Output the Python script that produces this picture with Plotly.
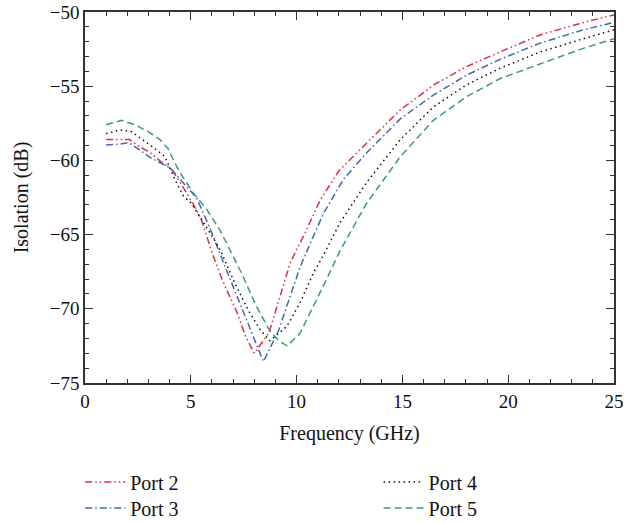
import plotly.graph_objects as go

# Port 2 (red, dash-dot-dot)
p2_x = [1, 1.7, 2.1, 2.5, 3.1, 3.6, 4.1, 4.5, 5.1, 5.5, 6.0, 6.5, 7.2, 7.6, 8.0, 8.7, 9.2, 9.7, 10.0, 10.4, 11.1, 12.0, 13.3, 14.9, 16.5, 18.0, 19.6, 21.5, 23.7, 25]
p2_y = [-58.6, -58.6, -58.6, -59.0, -59.5, -60.1, -60.6, -61.5, -62.9, -64.0, -66.2, -68.1, -70.3, -71.9, -73.0, -71.6, -69.2, -66.9, -66.0, -64.9, -62.7, -60.7, -58.85, -56.6, -54.9, -53.7, -52.7, -51.55, -50.65, -50.2]

# Port 3 (blue, dash-dot)
p3_x = [1, 1.65, 2.05, 2.5, 3.07, 3.6, 4.02, 4.73, 5.28, 5.67, 6.0, 6.38, 7.0, 7.64, 8.11, 8.43, 9.14, 9.69, 10.16, 10.44, 11.26, 12.2, 13.3, 14.9, 16.46, 18.04, 19.6, 21.5, 23.55, 25]
p3_y = [-58.96, -58.9, -58.8, -59.2, -59.8, -60.2, -60.5, -61.65, -62.55, -63.8, -64.9, -66.3, -68.5, -70.75, -72.55, -73.56, -71.5, -69.2, -67.2, -66.26, -63.6, -61.3, -59.5, -57.2, -55.6, -54.25, -53.2, -52.1, -51.2, -50.7]

# Port 4 (black, dotted)
p4_x = [1, 1.65, 2.2, 2.74, 3.3, 3.78, 4.25, 4.65, 5.04, 5.43, 5.83, 6.22, 6.46, 7.09, 7.72, 8.27, 8.74, 9.53, 10.16, 10.79, 11.26, 12.05, 13.3, 14.9, 16.46, 18.04, 19.6, 21.5, 23.55, 25]
p4_y = [-58.2, -57.95, -58.07, -58.6, -59.2, -59.75, -61.3, -62.4, -62.9, -63.8, -64.7, -65.6, -66.26, -68.3, -70.1, -71.4, -72.15, -71.2, -69.6, -67.6, -66.4, -64.2, -61.5, -58.6, -56.4, -54.9, -53.8, -52.7, -51.8, -51.2]

# Port 5 (green, dashed)
p5_x = [1, 1.73, 2.36, 3.0, 3.54, 3.92, 4.33, 4.57, 5.12, 5.75, 6.38, 6.9, 7.4, 8.11, 8.74, 9.2, 9.56, 10.16, 10.79, 11.4, 12.05, 12.52, 13.3, 14.9, 16.46, 18.04, 19.6, 21.5, 23.55, 25]
p5_y = [-57.6, -57.3, -57.6, -58.07, -58.6, -59.2, -60.4, -61.0, -62.2, -63.3, -64.7, -66.2, -67.6, -69.86, -71.5, -72.2, -72.5, -71.65, -69.86, -68.06, -66.1, -64.9, -62.9, -59.75, -57.3, -55.7, -54.5, -53.5, -52.45, -51.8]

x_ticks = [0, 5, 10, 15, 20, 25]
y_ticks = [-75, -70, -65, -60, -55, -50]

FONT = "Liberation Serif"

fig = go.Figure()
fig.add_trace(go.Scatter(x=p2_x, y=p2_y, mode="lines", name="Port 2",
                         line=dict(color="#d8304a", width=1.5, dash="7px,3px,1.5px,3px,1.5px,3px"),
                         legend="legend"))
fig.add_trace(go.Scatter(x=p3_x, y=p3_y, mode="lines", name="Port 3",
                         line=dict(color="#4468a8", width=1.5, dash="7px,3px,1.5px,3px"),
                         legend="legend2"))
fig.add_trace(go.Scatter(x=p4_x, y=p4_y, mode="lines", name="Port 4",
                         line=dict(color="#111111", width=1.5, dash="1.5px,3.5px"),
                         legend="legend3"))
fig.add_trace(go.Scatter(x=p5_x, y=p5_y, mode="lines", name="Port 5",
                         line=dict(color="#3a9a7f", width=1.5, dash="7px,4px"),
                         legend="legend4"))

axis_common = dict(
    showgrid=False, zeroline=False, showline=True, linecolor="#333", linewidth=1.5,
    mirror="ticks", ticks="inside", ticklen=8, tickwidth=1.2, tickcolor="#333",
    tickfont=dict(family=FONT, size=19, color="#111"), automargin=False,
    minor=dict(ticks="inside", ticklen=4, tickwidth=1, tickcolor="#333", dtick=1),
)

fig.update_xaxes(range=[0, 25], tickvals=x_ticks,
                 title=dict(text="Frequency (GHz)", font=dict(family=FONT, size=20, color="#111"), standoff=15),
                 **axis_common)
fig.update_yaxes(range=[-75, -50], tickvals=y_ticks,
                 title=dict(text="Isolation (dB)", font=dict(family=FONT, size=20, color="#111"), standoff=16),
                 **axis_common)

legend_common = dict(font=dict(family=FONT, size=20, color="#111"), bgcolor="rgba(0,0,0,0)",
                     orientation="v", yanchor="middle", xanchor="left", itemwidth=40)
row1 = -0.2668
row2 = -0.3369
col1 = -0.009
col2 = 0.555
fig.update_layout(
    width=640, height=523,
    margin=dict(l=85, r=26, t=12, b=140, autoexpand=False),
    plot_bgcolor="white", paper_bgcolor="white",
    legend=dict(x=col1, y=row1, **legend_common),
    legend2=dict(x=col1, y=row2, **legend_common),
    legend3=dict(x=col2, y=row1, **legend_common),
    legend4=dict(x=col2, y=row2, **legend_common),
    showlegend=True,
)

fig.write_html("out.html", config={"displayModeBar": False},
               post_script="document.body.style.margin='0';")
